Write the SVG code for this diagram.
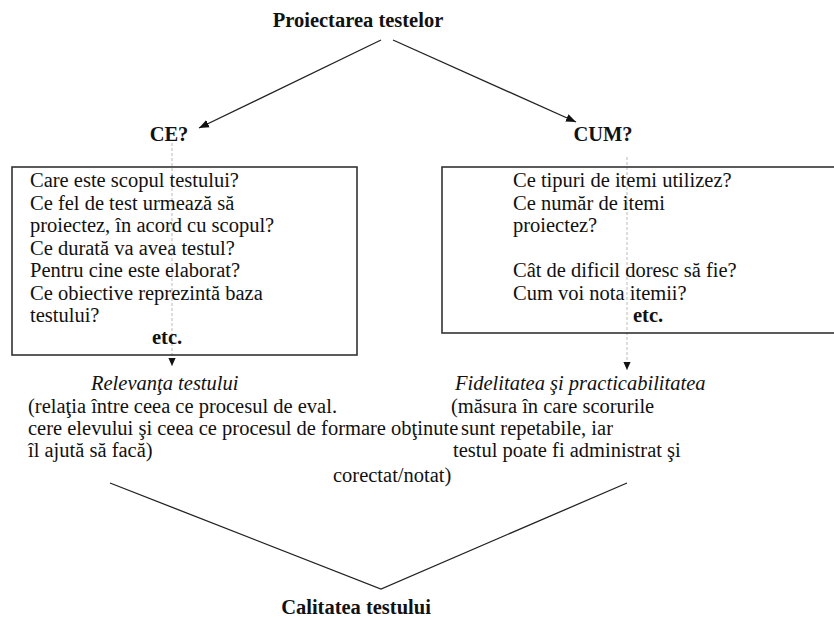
<svg xmlns="http://www.w3.org/2000/svg" width="834" height="620" viewBox="0 0 834 620">
<defs>
<marker id="ah" viewBox="0 0 10 10" refX="10" refY="5" markerWidth="10" markerHeight="10" markerUnits="userSpaceOnUse" orient="auto">
<path d="M0,1 L10,5 L0,9 Z" fill="#111"/>
</marker>
<marker id="ahs" viewBox="0 0 10 10" refX="10" refY="5" markerWidth="8" markerHeight="8" markerUnits="userSpaceOnUse" orient="auto">
<path d="M0,0.5 L10,5 L0,9.5 Z" fill="#111"/>
</marker>
<style>
text{font-family:"Liberation Serif","Times New Roman",serif;font-size:20.5px;fill:#111}
.b{font-weight:bold}
.i{font-style:italic}
.box{fill:none;stroke:#333;stroke-width:1.6}
.conn{fill:none;stroke:#222;stroke-width:1.3}
.dash{fill:none;stroke:#bbb;stroke-width:1;stroke-dasharray:3 2}
</style>
</defs>
<rect width="834" height="620" fill="#fff"/>

<g id="connectors">
<line class="conn" x1="381" y1="40" x2="199" y2="128" marker-end="url(#ah)"/>
<line class="conn" x1="393" y1="40" x2="576" y2="122" marker-end="url(#ah)"/>
<line class="dash" x1="172" y1="143" x2="172" y2="366" marker-end="url(#ahs)"/>
<line class="dash" x1="627" y1="157" x2="627" y2="370" marker-end="url(#ahs)"/>
<polyline class="conn" points="110,483 381,589 627,483"/>
</g>

<g id="title">
<text class="b" x="358" y="27" text-anchor="middle">Proiectarea testelor</text>
</g>

<g id="ce">
<text class="b" x="169" y="141" text-anchor="middle">CE?</text>
</g>

<g id="cum">
<text class="b" x="603" y="141" text-anchor="middle">CUM?</text>
</g>

<g id="box-ce">
<rect class="box" x="12" y="167" width="345" height="188"/>
<text x="30" y="187">Care este scopul testului?</text>
<text x="30" y="209.5">Ce fel de test urmează să</text>
<text x="30" y="232">proiectez, în acord cu scopul?</text>
<text x="30" y="254.5">Ce durată va avea testul?</text>
<text x="30" y="277">Pentru cine este elaborat?</text>
<text x="30" y="299.5">Ce obiective reprezintă baza</text>
<text x="30" y="322">testului?</text>
<text class="b" x="152" y="344">etc.</text>
</g>

<g id="box-cum">
<rect class="box" x="442" y="167" width="400" height="166"/>
<text x="513" y="187">Ce tipuri de itemi utilizez?</text>
<text x="513" y="209.5">Ce număr de itemi</text>
<text x="513" y="232">proiectez?</text>
<text x="513" y="277">Cât de dificil doresc să fie?</text>
<text x="513" y="299.5">Cum voi nota itemii?</text>
<text class="b" x="633" y="322">etc.</text>
</g>

<g id="relevanta">
<text class="i" x="91" y="390">Relevanţa testului</text>
<text x="28" y="412.5">(relaţia între ceea ce procesul de eval.</text>
<text x="28" y="435">cere elevului şi ceea ce procesul de formare obţinute</text>
<text x="28" y="457">îl ajută să facă)</text>
</g>

<g id="fidelitate">
<text class="i" x="455" y="390">Fidelitatea şi practicabilitatea</text>
<text x="451" y="412.5">(măsura în care scorurile</text>
<text x="461" y="435">sunt repetabile, iar</text>
<text x="453" y="457">testul poate fi administrat şi</text>
<text x="333" y="482">corectat/notat)</text>
</g>

<g id="calitate">
<text class="b" x="356" y="614" text-anchor="middle">Calitatea testului</text>
</g>
</svg>
